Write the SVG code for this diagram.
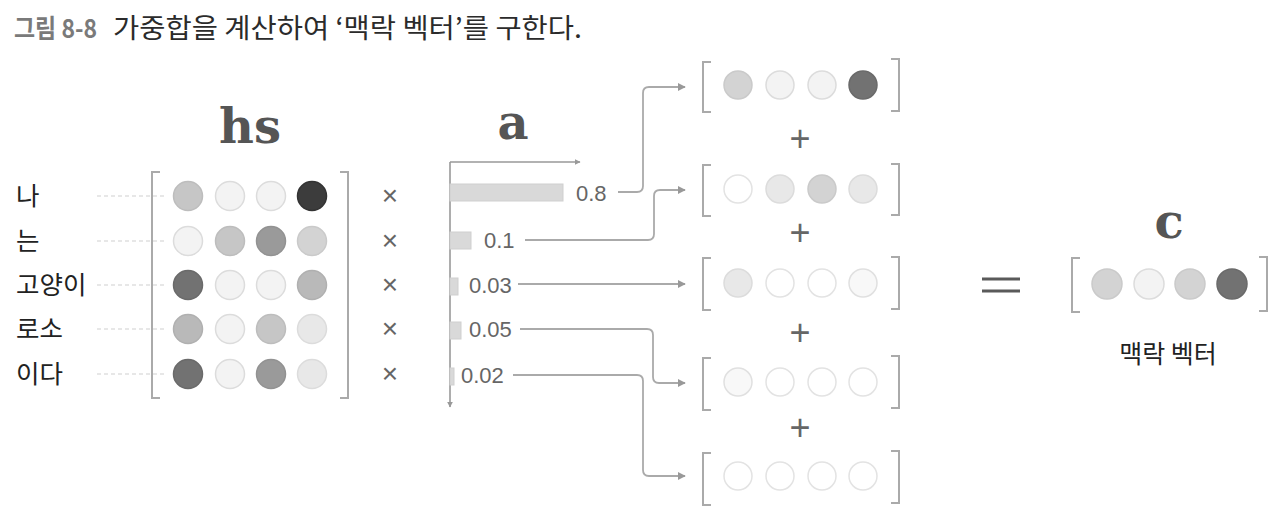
<svg xmlns="http://www.w3.org/2000/svg" width="1280" height="518" viewBox="0 0 1280 518">
<defs>
<style>
.kr{font-family:"Noto Sans CJK KR","Noto Sans",sans-serif;}
.lbl{font-family:"Noto Sans CJK KR","Noto Sans",sans-serif;font-size:25.5px;fill:#222;}
.num{font-family:"Liberation Sans","Noto Sans",sans-serif;font-size:22px;fill:#666;}
.big{font-family:"DejaVu Serif","Liberation Serif",serif;font-weight:bold;font-size:48px;fill:#555;text-anchor:middle;}
.op{font-family:"Liberation Sans",sans-serif;font-size:28px;fill:#666;text-anchor:middle;}
.plus{font-family:"Liberation Sans",sans-serif;font-size:36px;fill:#666;text-anchor:middle;}
.br{fill:none;stroke:#aaa;stroke-width:2;}
.dash{stroke:#cfcfcf;stroke-width:1.2;stroke-dasharray:4 3;}
.con{fill:none;stroke:#aaa;stroke-width:1.8;}
.ax{fill:none;stroke:#999;stroke-width:1.6;}
.bar{fill:#d9d9d9;stroke:#cfcfcf;stroke-width:1;}
circle{stroke-width:1.5;}
.c0{fill:#ffffff;stroke:#e3e3e3;}
.c1{fill:#f3f3f3;stroke:#dcdcdc;}
.c2{fill:#e8e8e8;stroke:#dcdcdc;}
.c3{fill:#d3d3d3;stroke:#cacaca;}
.c4{fill:#c6c6c6;stroke:#bdbdbd;}
.c5{fill:#b9b9b9;stroke:#b0b0b0;}
.c6{fill:#9a9a9a;stroke:#929292;}
.c7{fill:#727272;stroke:#6a6a6a;}
.c8{fill:#3c3c3c;stroke:#333;}
.c9{fill:#f8f8f8;stroke:#e0e0e0;}
</style>
<marker id="arr" viewBox="0 0 10 10" refX="9" refY="5" markerWidth="8" markerHeight="8" markerUnits="userSpaceOnUse" orient="auto">
<path d="M0,0 L10,5 L0,10 z" fill="#999"/>
</marker>
<marker id="arrs" viewBox="0 0 10 10" refX="9" refY="5" markerWidth="6" markerHeight="6" markerUnits="userSpaceOnUse" orient="auto">
<path d="M0,0 L10,5 L0,10 z" fill="#999"/>
</marker>
</defs>
<rect width="1280" height="518" fill="#fff"/>

<g id="title">
<text class="kr" x="14" y="38" font-size="26" font-weight="bold" fill="#7a7a7a" textLength="83" lengthAdjust="spacingAndGlyphs">그림 8-8</text>
<text class="kr" x="113" y="38" font-size="27" fill="#2b2b2b" textLength="469" lengthAdjust="spacingAndGlyphs">가중합을 계산하여 ‘맥락 벡터’를 구한다.</text>
</g>

<g id="words">
<text class="lbl" x="16" y="205">나</text>
<text class="lbl" x="16" y="250">는</text>
<text class="lbl" x="16" y="294">고양이</text>
<text class="lbl" x="16" y="338">로소</text>
<text class="lbl" x="16" y="383">이다</text>
<line class="dash" x1="97" y1="196" x2="165" y2="196"/>
<line class="dash" x1="97" y1="241" x2="165" y2="241"/>
<line class="dash" x1="97" y1="285" x2="165" y2="285"/>
<line class="dash" x1="97" y1="329" x2="165" y2="329"/>
<line class="dash" x1="97" y1="374" x2="165" y2="374"/>
</g>

<g id="hs">
<text class="big" x="250" y="143">hs</text>
<path class="br" d="M160,172 H152 V398 H160"/>
<path class="br" d="M340,172 H348 V398 H340"/>
<circle class="c4" cx="188" cy="196" r="14.5"/><circle class="c1" cx="230" cy="196" r="14.5"/><circle class="c1" cx="271" cy="196" r="14.5"/><circle class="c8" cx="312" cy="196" r="14.5"/>
<circle class="c1" cx="188" cy="241" r="14.5"/><circle class="c4" cx="230" cy="241" r="14.5"/><circle class="c6" cx="271" cy="241" r="14.5"/><circle class="c3" cx="312" cy="241" r="14.5"/>
<circle class="c7" cx="188" cy="285" r="14.5"/><circle class="c1" cx="230" cy="285" r="14.5"/><circle class="c1" cx="271" cy="285" r="14.5"/><circle class="c5" cx="312" cy="285" r="14.5"/>
<circle class="c5" cx="188" cy="329" r="14.5"/><circle class="c1" cx="230" cy="329" r="14.5"/><circle class="c4" cx="271" cy="329" r="14.5"/><circle class="c2" cx="312" cy="329" r="14.5"/>
<circle class="c7" cx="188" cy="374" r="14.5"/><circle class="c1" cx="230" cy="374" r="14.5"/><circle class="c6" cx="271" cy="374" r="14.5"/><circle class="c2" cx="312" cy="374" r="14.5"/>
</g>

<g id="times">
<text class="op" x="390" y="205">×</text>
<text class="op" x="390" y="250">×</text>
<text class="op" x="390" y="294">×</text>
<text class="op" x="390" y="338">×</text>
<text class="op" x="390" y="383">×</text>
</g>

<g id="a">
<text class="big" x="513" y="139">a</text>
<path class="ax" d="M450,162 H580" marker-end="url(#arrs)"/>
<path class="ax" d="M450,162 V407" marker-end="url(#arrs)"/>
<rect class="bar" x="450" y="184" width="113" height="17"/>
<rect class="bar" x="450" y="232" width="21" height="17"/>
<rect class="bar" x="450" y="278" width="8" height="17"/>
<rect class="bar" x="450" y="322" width="11" height="17"/>
<rect class="bar" x="450" y="368" width="4" height="17"/>
<text class="num" x="576" y="201">0.8</text>
<text class="num" x="484" y="248">0.1</text>
<text class="num" x="469" y="293">0.03</text>
<text class="num" x="469" y="337">0.05</text>
<text class="num" x="461" y="383">0.02</text>
</g>

<g id="connectors">
<path class="con" d="M618,192 H637 Q643,192 643,186 V93 Q643,87 649,87 H685" marker-end="url(#arr)"/>
<path class="con" d="M525,240 H648 Q654,240 654,234 V196 Q654,190 660,190 H685" marker-end="url(#arr)"/>
<path class="con" d="M518,284 H685" marker-end="url(#arr)"/>
<path class="con" d="M520,329 H647 Q653,329 653,335 V377 Q653,383 659,383 H685" marker-end="url(#arr)"/>
<path class="con" d="M513,375 H637 Q643,375 643,381 V470 Q643,476 649,476 H685" marker-end="url(#arr)"/>
</g>

<g id="v1">
<path class="br" d="M711,62 H703 V112 H711"/>
<path class="br" d="M891,59 H899 V111 H891"/>
<circle class="c3" cx="738" cy="85" r="14"/><circle class="c1" cx="780" cy="85" r="14"/><circle class="c1" cx="822" cy="85" r="14"/><circle class="c7" cx="863" cy="85" r="14"/>
</g>
<text class="plus" x="800" y="151">+</text>
<g id="v2">
<path class="br" d="M711,165 H703 V216 H711"/>
<path class="br" d="M891,164 H899 V215 H891"/>
<circle class="c0" cx="738" cy="189" r="14"/><circle class="c2" cx="780" cy="189" r="14"/><circle class="c3" cx="822" cy="189" r="14"/><circle class="c2" cx="863" cy="189" r="14"/>
</g>
<text class="plus" x="800" y="245">+</text>
<g id="v3">
<path class="br" d="M711,258 H703 V310 H711"/>
<path class="br" d="M891,257 H899 V309 H891"/>
<circle class="c2" cx="738" cy="283" r="14"/><circle class="c0" cx="780" cy="283" r="14"/><circle class="c0" cx="822" cy="283" r="14"/><circle class="c9" cx="863" cy="283" r="14"/>
</g>
<text class="plus" x="800" y="345">+</text>
<g id="v4">
<path class="br" d="M711,358 H703 V410 H711"/>
<path class="br" d="M891,356 H899 V408 H891"/>
<circle class="c9" cx="738" cy="382" r="14"/><circle class="c0" cx="780" cy="382" r="14"/><circle class="c0" cx="822" cy="382" r="14"/><circle class="c0" cx="863" cy="382" r="14"/>
</g>
<text class="plus" x="800" y="440">+</text>
<g id="v5">
<path class="br" d="M711,453 H703 V505 H711"/>
<path class="br" d="M891,451 H899 V503 H891"/>
<circle class="c0" cx="738" cy="476" r="14"/><circle class="c0" cx="780" cy="476" r="14"/><circle class="c0" cx="822" cy="476" r="14"/><circle class="c0" cx="863" cy="476" r="14"/>
</g>

<g id="equals">
<line x1="982" y1="279" x2="1020" y2="279" stroke="#5a5a5a" stroke-width="3"/>
<line x1="982" y1="291" x2="1020" y2="291" stroke="#5a5a5a" stroke-width="3"/>
</g>

<g id="c">
<text class="big" x="1169" y="238">c</text>
<path class="br" d="M1080,258 H1072 V312 H1080"/>
<path class="br" d="M1259,257 H1267 V311 H1259"/>
<circle class="c3" cx="1107" cy="284" r="15"/><circle class="c1" cx="1149" cy="284" r="15"/><circle class="c3" cx="1190" cy="284" r="15"/><circle class="c7" cx="1232" cy="284" r="15"/>
<text class="kr" x="1168" y="363" font-size="25" fill="#222" text-anchor="middle">맥락 벡터</text>
</g>
</svg>
